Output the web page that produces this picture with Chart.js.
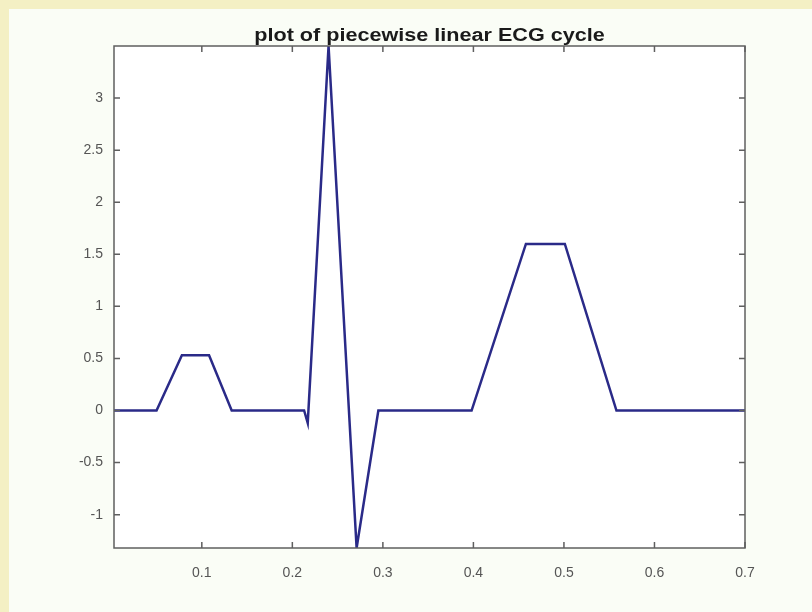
<!DOCTYPE html>
<html>
<head>
<meta charset="utf-8">
<title>ECG cycle</title>
<script src="https://cdn.jsdelivr.net/npm/chart.js@4/dist/chart.umd.min.js"></script>
<style>
    html, body { margin: 0; padding: 0; background: #f4f0c4; }
    #wrap { width: 812px; height: 612px; position: relative; }
    canvas { display: block; }
</style>
</head>
<body>
<div id="wrap"><canvas id="ecg" width="812" height="612"></canvas></div>
<script>
// piecewise linear ECG cycle: breakpoints (time in s, amplitude)
const timeSec = [0.003, 0.050, 0.078, 0.108, 0.133, 0.213, 0.217, 0.240, 0.271, 0.295, 0.398, 0.458, 0.501, 0.558, 0.700];
const amplitude = [0, 0, 0.53, 0.53, 0, 0, -0.12, 3.5, -1.32, 0, 0, 1.6, 1.6, 0, 0];

const xTicks = [0.1, 0.2, 0.3, 0.4, 0.5, 0.6, 0.7];
const yTicks = [-1, -0.5, 0, 0.5, 1, 1.5, 2, 2.5, 3];

const titleText = 'plot of piecewise linear ECG cycle';

const points = timeSec.map((t, i) => ({ x: t, y: amplitude[i] }));

// cream frame + off-white figure panel
const figureBg = {
    id: 'figureBg',
    beforeDraw(chart) {
        const ctx = chart.ctx;
        ctx.save();
        ctx.fillStyle = '#f4f0c4';
        ctx.fillRect(0, 0, chart.width, chart.height);
        ctx.fillStyle = '#fafdf6';
        ctx.fillRect(9, 9, chart.width - 9, chart.height - 9);
        ctx.fillStyle = '#ffffff';
        const a = chart.chartArea;
        ctx.fillRect(a.left, a.top, a.right - a.left, a.bottom - a.top);
        ctx.restore();
    }
};

// axes box with inward ticks on all four sides, title centred over the axes
const axesBox = {
    id: 'axesBox',
    afterDraw(chart) {
        const ctx = chart.ctx;
        const a = chart.chartArea;
        const xs = chart.scales.x, ys = chart.scales.y;
        const len = 6;
        ctx.save();
        ctx.strokeStyle = '#5f5f5f';
        ctx.lineWidth = 1.5;
        ctx.strokeRect(a.left, a.top, a.right - a.left, a.bottom - a.top);
        ctx.beginPath();
        xTicks.forEach(v => {
            const px = xs.getPixelForValue(v);
            ctx.moveTo(px, a.bottom); ctx.lineTo(px, a.bottom - len);
            ctx.moveTo(px, a.top); ctx.lineTo(px, a.top + len);
        });
        yTicks.forEach(v => {
            const py = ys.getPixelForValue(v);
            ctx.moveTo(a.left, py); ctx.lineTo(a.left + len, py);
            ctx.moveTo(a.right, py); ctx.lineTo(a.right - len, py);
        });
        ctx.stroke();

        // title, slightly widened like the figure export
        ctx.translate((a.left + a.right) / 2, a.top - 5);
        ctx.scale(1.2, 1);
        ctx.font = 'bold 18px "Liberation Sans"';
        ctx.fillStyle = '#1a1a1a';
        ctx.textAlign = 'center';
        ctx.textBaseline = 'alphabetic';
        ctx.fillText(titleText, 0, 0);
        ctx.restore();
    }
};

new Chart(document.getElementById('ecg'), {
    type: 'scatter',
    data: {
        datasets: [{
            data: points,
            showLine: true,
            borderColor: '#2a2a88',
            borderWidth: 2.5,
            pointRadius: 0,
            tension: 0
        }]
    },
    options: {
        responsive: false,
        animation: false,
        layout: { padding: { left: 0, right: 67, top: 46, bottom: 0 } },
        plugins: {
            legend: { display: false },
            tooltip: { enabled: false },
            title: { display: false }
        },
        scales: {
            x: {
                type: 'linear',
                min: timeSec[0],
                max: timeSec[timeSec.length - 1],
                afterBuildTicks: s => { s.ticks = xTicks.map(v => ({ value: v })); },
                afterFit: s => { s.height = 64; },
                grid: { display: false, drawTicks: false },
                border: { display: false },
                ticks: {
                    color: '#555555',
                    padding: 17,
                    maxRotation: 0,
                    font: { family: 'Liberation Sans', size: 14 },
                    callback: v => String(v)
                }
            },
            y: {
                type: 'linear',
                min: Math.min(...amplitude),
                max: Math.max(...amplitude),
                afterBuildTicks: s => { s.ticks = yTicks.map(v => ({ value: v })); },
                afterFit: s => { s.width = 114; },
                grid: { display: false, drawTicks: false },
                border: { display: false },
                ticks: {
                    color: '#555555',
                    padding: 11,
                    font: { family: 'Liberation Sans', size: 14 },
                    callback: v => String(v)
                }
            }
        }
    },
    plugins: [figureBg, axesBox]
});
</script>
</body>
</html>
